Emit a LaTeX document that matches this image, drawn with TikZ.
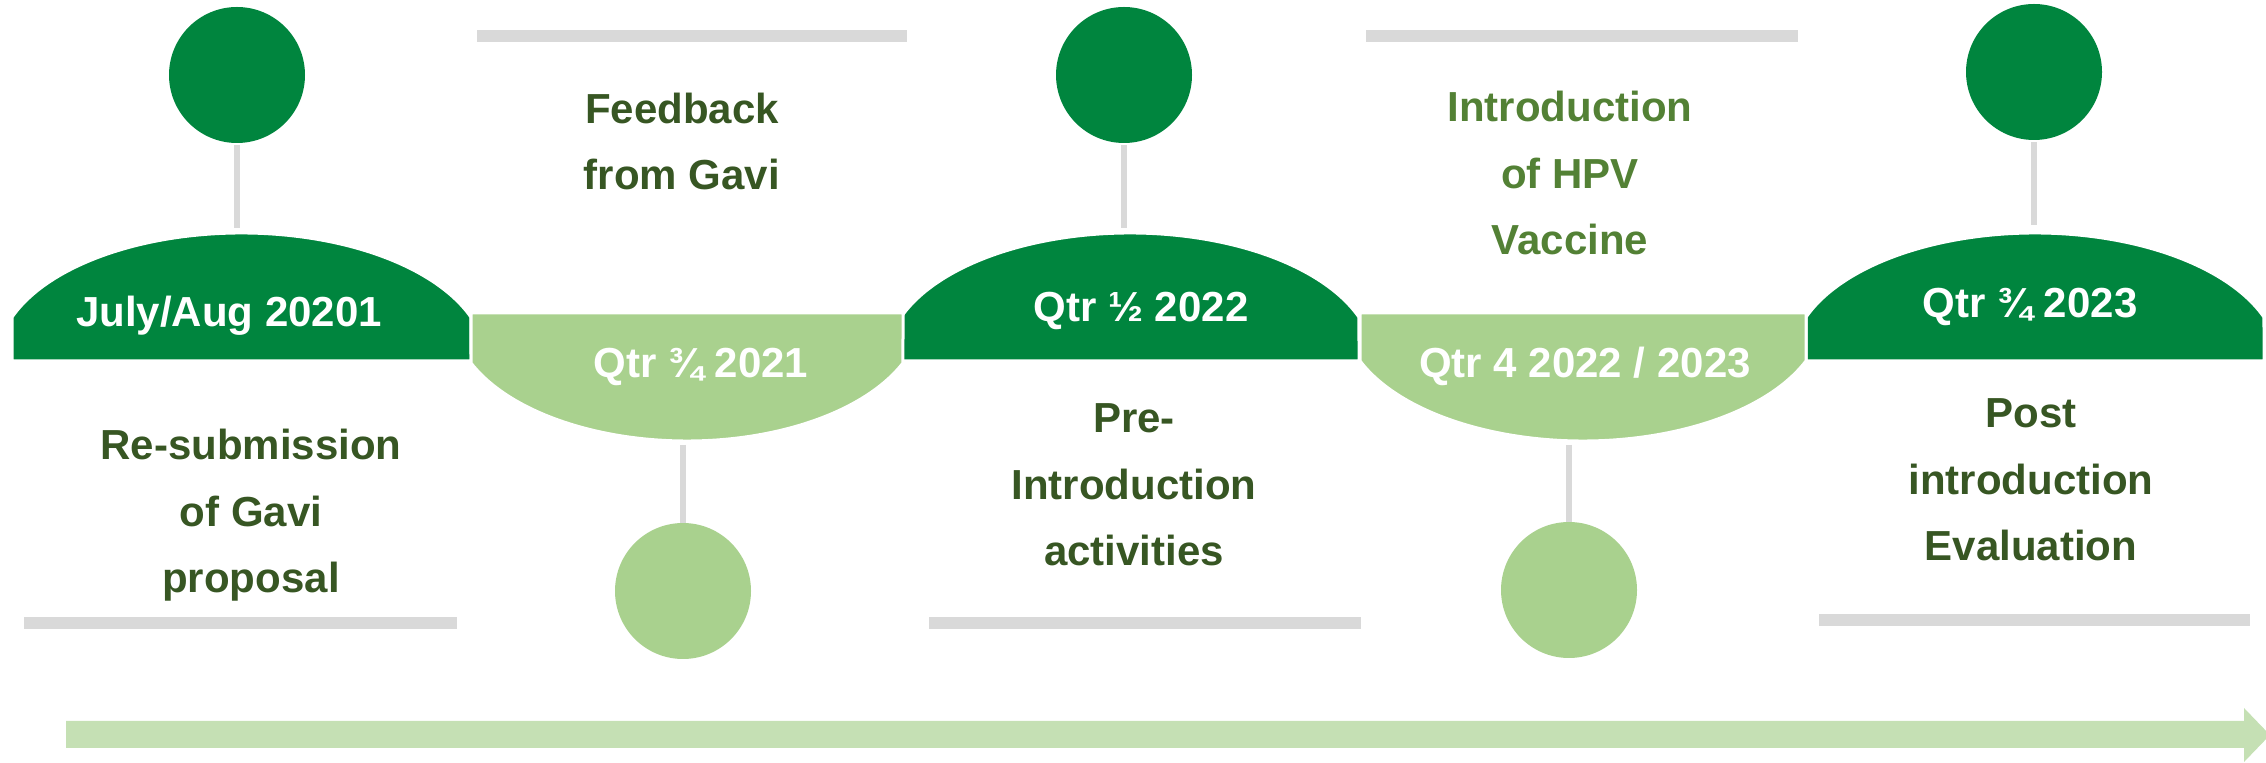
\documentclass[tikz,border=0pt]{standalone}
\usepackage{fontspec}
\setmainfont{Liberation Sans}
\usepackage{tikz}
\usetikzlibrary{positioning}
\definecolor{deepgreen}{HTML}{00853E}
\definecolor{leafgreen}{HTML}{A9D18E}
\definecolor{palegreen}{HTML}{C5E0B4}
\definecolor{textgreen}{HTML}{375623}
\definecolor{midgreen}{HTML}{538135}
\definecolor{rulegray}{HTML}{D9D9D9}
\tikzset{
  bigtext/.style={font=\fontsize{21}{33.3}\selectfont\bfseries},
  datetag/.style={bigtext, text=white, inner sep=0pt, anchor=base},
  steptext/.style={bigtext, text=textgreen, align=center, inner sep=0pt, anchor=base},
  knob/.style={circle, minimum size=68pt, inner sep=0pt},
  darkknob/.style={knob, fill=deepgreen},
  lightknob/.style={knob, fill=leafgreen},
  stemline/.style={draw=rulegray, line width=3pt},
  greybar/.style={fill=rulegray},
  segment/.style={draw=white, line width=1.5pt}
}

\begin{document}
\begin{tikzpicture}[x=0.5pt,y=-0.5pt]
  \useasboundingbox (0,0) rectangle (2266,763);

  \foreach \cx/\w in {241.5/229.5, 1130/229, 2035/229} {
    \pgfmathsetmacro\rx{\w/cos(20)/2}
    \filldraw[segment, fill=deepgreen] (\cx-\w,361) -- ++(0,{-128*sin(20)})
      arc[start angle=160, end angle=20, x radius=\rx pt, y radius=64pt] -- (\cx+\w,361) -- cycle;
  }
  \foreach \cx/\w/\ang in {687/216/23, 1583/223/22} {
    \pgfmathsetmacro\rx{\w/cos(\ang)/2}
    \filldraw[segment, fill=leafgreen] (\cx-\w,313) -- ++(0,{128*sin(\ang)})
      arc[start angle=180+\ang, end angle=360-\ang, x radius=\rx pt, y radius=64pt] -- (\cx+\w,313) -- cycle;
  }

  \node[datetag] (dateA) at (229,327) {July/Aug 20201};
  \node[datetag] (dateB) at (701,378) {Qtr ¾ 2021};
  \node[datetag] (dateC) at (1141,322) {Qtr ½ 2022};
  \node[datetag] (dateD) at (1585,378) {Qtr 4 2022 / 2023};
  \node[datetag] (dateE) at (2030,318) {Qtr ¾ 2023};

  \node[darkknob] (knobA) at (237,75) {};
  \node[darkknob] (knobC) at (1124,75) {};
  \node[darkknob] (knobE) at (2034,72) {};
  \node[lightknob] (knobB) at (683,591) {};
  \node[lightknob] (knobD) at (1569,590) {};

  \coordinate (peakA) at (237,228);
  \coordinate (peakC) at (1124,228);
  \coordinate (peakE) at (2034,225);
  \coordinate (dipB) at (683,445);
  \coordinate (dipD) at (1569,445);
  \foreach \k in {A,C,E} {
    \draw[stemline, shorten <=1pt] (knob\k.south) -- (peak\k);
  }
  \foreach \k in {B,D} {
    \draw[stemline] (dip\k) -- (knob\k.north);
  }

  \fill[greybar] (477,30) rectangle (907,42);
  \fill[greybar] (1366,30) rectangle (1798,42);
  \fill[greybar] (24,617) rectangle (457,629);
  \fill[greybar] (929,617) rectangle (1361,629);
  \fill[greybar] (1819,614) rectangle (2250,626);

  % anchor=base sits on the last line
  \node[steptext] (noteA) at (251,593) {Re-submission\\of Gavi\\proposal};
  \node[steptext] (noteB) at (682,190) {Feedback\\from Gavi};
  \node[steptext] (noteC) at (1134,566) {Pre-\\Introduction\\activities};
  \node[steptext, text=midgreen] (noteD) at (1570,255) {Introduction\\of HPV\\Vaccine};
  \node[steptext] (noteE) at (2031,561) {Post\\introduction\\Evaluation};

  \fill[palegreen] (66,721) -- (2244,721) -- (2244,708) -- (2270,735)
    -- (2244,762) -- (2244,748) -- (66,748) -- cycle;
\end{tikzpicture}
\end{document}
